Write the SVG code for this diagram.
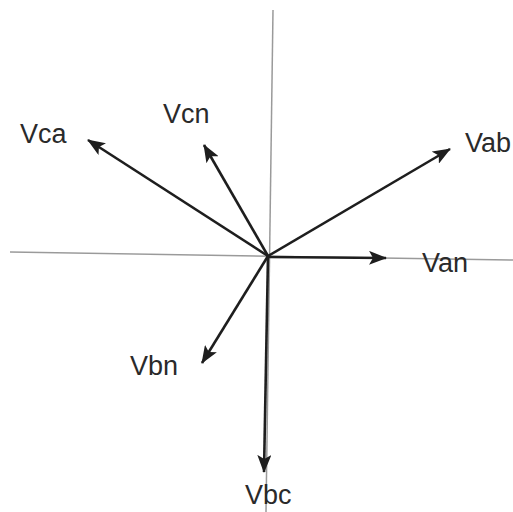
<svg xmlns="http://www.w3.org/2000/svg" width="513" height="512" viewBox="0 0 513 512">
<defs>
<style>
.axis{stroke:#9a9a9a;stroke-width:1.5;fill:none}
.vec{stroke:#1e1e1e;stroke-width:2.6;fill:none;marker-end:url(#ah)}
text{font-family:"Liberation Sans",Arial,sans-serif;font-size:27px;fill:#2a2a2a}
</style>
<marker id="ah" viewBox="0 0 18 14" refX="17" refY="7" markerWidth="18" markerHeight="14" markerUnits="userSpaceOnUse" orient="auto">
<path d="M0,0 L18,7 L0,14 L4,7 Z" fill="#1e1e1e"/>
</marker>
</defs>
<rect width="513" height="512" fill="#ffffff"/>
<g id="axes">
<line class="axis" x1="273" y1="10" x2="266" y2="512"/>
<line class="axis" x1="10" y1="252" x2="513" y2="260"/>
</g>
<g id="connectors">
<line class="vec" x1="268" y1="256" x2="88" y2="140"/>
<line class="vec" x1="268" y1="256" x2="204" y2="145"/>
<line class="vec" x1="268" y1="256" x2="450" y2="149"/>
<line class="vec" x1="268" y1="257" x2="386" y2="258"/>
<line class="vec" x1="268" y1="256" x2="202" y2="363"/>
<line class="vec" x1="268" y1="256" x2="264" y2="472"/>
</g>
<g id="Vca"><text x="20" y="143">Vca</text></g>
<g id="Vcn"><text x="163" y="123">Vcn</text></g>
<g id="Vab"><text x="465" y="152">Vab</text></g>
<g id="Van"><text x="422" y="272">Van</text></g>
<g id="Vbn"><text x="130" y="375">Vbn</text></g>
<g id="Vbc"><text x="245" y="504">Vbc</text></g>
</svg>
